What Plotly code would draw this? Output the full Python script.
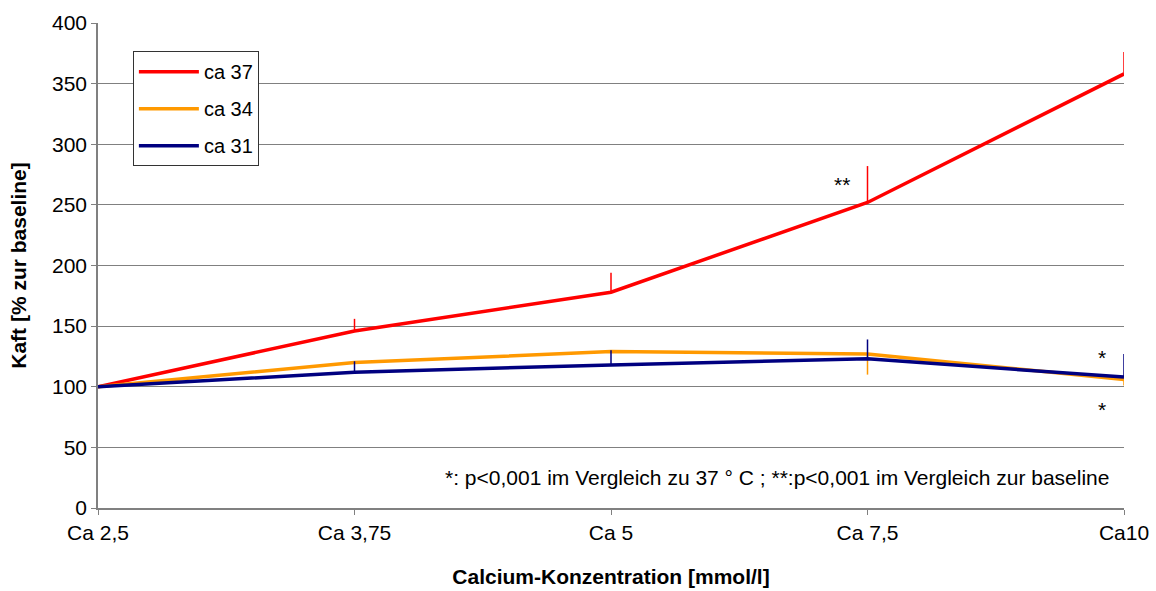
import plotly.graph_objects as go

# Calcium concentrations (x categories) and tick labels
categories = ["Ca 2,5", "Ca 3,75", "Ca 5", "Ca 7,5", "Ca10"]
positions = [0, 1, 2, 3, 4]

# Kaft relative to baseline (%) per temperature group
ca37 = [100, 146, 178, 252, 358]
ca37_err = [0, 10, 16, 30, 18]

ca34 = [100, 120, 129, 127, 106]
ca34_err = [0, 0, 0, 17, 5]

ca31 = [100, 112, 118, 123, 108]
ca31_err = [0, 9, 12, 16, 19]

FONT = "Liberation Sans, Arial, sans-serif"

fig = go.Figure()

fig.add_trace(go.Scatter(
    x=positions, y=ca37, name="ca 37", mode="lines", legendgroup="g37",
    line=dict(color="#ff0000", width=3.5),
    error_y=dict(type="data", array=ca37_err, arrayminus=[0] * 5,
                 symmetric=False, color="#ff0000", thickness=1.5, width=0),
))
fig.add_trace(go.Scatter(
    x=positions, y=ca34, name="ca 34", mode="lines", legendgroup="g34",
    line=dict(color="#ff9900", width=3.5),
    error_y=dict(type="data", array=[0] * 5, arrayminus=ca34_err,
                 symmetric=False, color="#ff9900", thickness=1.5, width=0),
))
fig.add_trace(go.Scatter(
    x=positions, y=ca31, name="ca 31", mode="lines", legendgroup="g31",
    line=dict(color="#000080", width=3.5),
    error_y=dict(type="data", array=ca31_err, arrayminus=[0] * 5,
                 symmetric=False, color="#000080", thickness=1.5, width=0),
))

annotations = [
    dict(x=2.9, y=267, text="**", showarrow=False, font=dict(size=21, color="black")),
    dict(x=3.915, y=124, text="*", showarrow=False, font=dict(size=21, color="black")),
    dict(x=3.915, y=81, text="*", showarrow=False, font=dict(size=21, color="black")),
    dict(x=0.987, y=25, xref="paper", xanchor="right",
         text="*: p<0,001 im Vergleich zu 37 ° C ; **:p<0,001 im Vergleich zur baseline",
         showarrow=False, font=dict(size=21, color="black")),
]

fig.update_layout(
    width=1156, height=591,
    margin=dict(l=98, r=32, t=23, b=83),
    paper_bgcolor="white", plot_bgcolor="white",
    font=dict(family=FONT, size=21, color="black"),
    showlegend=True,
    legend=dict(
        x=0.034, y=0.942, xanchor="left", yanchor="top",
        bgcolor="white", bordercolor="#333333", borderwidth=1,
        font=dict(size=20), itemwidth=60, tracegroupgap=8,
    ),
    annotations=annotations,
    xaxis=dict(
        range=[0, 4], tickvals=positions, ticktext=categories,
        automargin=False,
        showgrid=False, zeroline=False,
        showline=True, linecolor="#808080", linewidth=1.5,
        ticks="outside", ticklen=5, tickcolor="#808080",
        title=dict(text="<b>Calcium-Konzentration [mmol/l]</b>", standoff=26,
                   font=dict(size=21)),
    ),
    yaxis=dict(
        range=[0, 400], tickvals=list(range(0, 401, 50)),
        automargin=False,
        showgrid=True, gridcolor="#808080", gridwidth=1.2,
        zeroline=False,
        showline=True, linecolor="#808080", linewidth=1.5,
        ticks="outside", ticklen=5, tickcolor="#808080",
        title=dict(text="<b>Kaft [% zur baseline]</b>", standoff=20,
                   font=dict(size=21)),
    ),
)

fig.write_html("out.html")
